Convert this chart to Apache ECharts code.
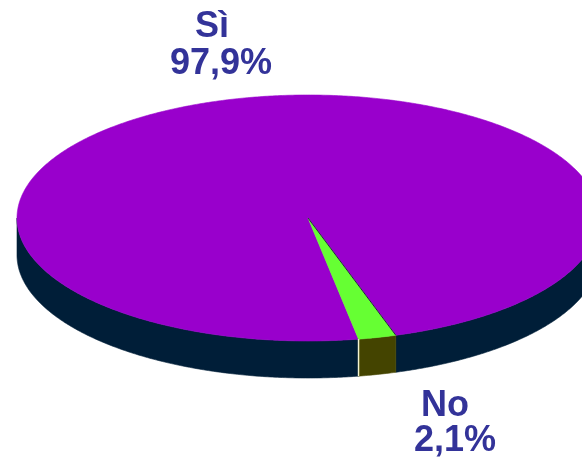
<!DOCTYPE html>
<html>
<head>
<meta charset="utf-8">
<script src="https://cdn.jsdelivr.net/npm/echarts@6/dist/echarts.min.js"></script>
<style>
  html, body { margin: 0; padding: 0; background: #ffffff; }
  #chart { width: 582px; height: 460px; }
</style>
</head>
<body>
<div id="chart"></div>
<script>
// Answers and their shares (percent)
const categories = ['Sì', 'No'];
const shares = [97.9, 2.1];

// Slice colours: top face and side wall
const topColors = ['#9900CC', '#66FF33'];
const sideColors = ['#001E38', '#444400'];

// Disc geometry (pixels / degrees, screen angles growing clockwise)
const disc = { cx: 308, cy: 218, rx: 291, ry: 123, depth: 37, startDeg: 80 };

// Label placement: left x and cap-centre y for the name and the value lines
const labelLayout = [
  { nameX: 195, nameY: 27, valX: 170, valY: 64 },
  { nameX: 421, nameY: 406, valX: 414, valY: 441 }
];

const total = shares.reduce((a, b) => a + b, 0);
const startAngles = [];
(function () {
  let acc = disc.startDeg;
  shares.forEach(v => { startAngles.push(acc); acc += v / total * 360; });
})();

function rimPoint(deg, dy) {
  const t = deg * Math.PI / 180;
  return [disc.cx + disc.rx * Math.cos(t), disc.cy + disc.ry * Math.sin(t) + (dy || 0)];
}

function arcPoints(a, b, dy) {
  const pts = [];
  const n = Math.max(2, Math.ceil(Math.abs(b - a) / 0.5));
  for (let i = 0; i <= n; i++) pts.push(rimPoint(a + (b - a) * i / n, dy));
  return pts;
}

// Parts of [a, b] that face the viewer (sin > 0 on screen)
function frontRanges(a, b) {
  const out = [];
  for (let k = -1; k <= 2; k++) {
    const lo = Math.max(a, k * 360), hi = Math.min(b, k * 360 + 180);
    if (hi > lo) out.push([lo, hi]);
  }
  return out;
}

function fmt(v) { return v.toFixed(1).replace('.', ',') + '%'; }

const chart = echarts.init(document.getElementById('chart'), null, { renderer: 'canvas' });

chart.setOption({
  backgroundColor: '#ffffff',
  animation: false,
  series: [{
    type: 'custom',
    coordinateSystem: 'none',
    data: shares.map((v, i) => ({ name: categories[i], value: v })),
    renderItem: function (params, api) {
      const i = params.dataIndex;
      const v = api.value(0);
      const a = startAngles[i];
      const b = a + v / total * 360;
      const children = [];

      // side wall
      frontRanges(a, b).forEach(([lo, hi]) => {
        const top = arcPoints(lo, hi, 0);
        const bottom = arcPoints(hi, lo, disc.depth);
        children.push({
          type: 'polygon', z2: 1,
          shape: { points: top.concat(bottom) },
          style: { fill: sideColors[i], stroke: sideColors[i], lineWidth: 0.6 }
        });
      });

      // top face
      children.push({
        type: 'polygon', z2: 5,
        shape: { points: [[disc.cx, disc.cy]].concat(arcPoints(a, b, 0)) },
        style: { fill: topColors[i], stroke: topColors[i], lineWidth: 0.6 }
      });

      // small slice edge highlights
      if (i === 1) {
        const pTop = rimPoint(b, 0), pBot = rimPoint(b, disc.depth);
        children.push({
          type: 'line', z2: 6,
          shape: { x1: pTop[0], y1: pTop[1], x2: pBot[0], y2: pBot[1] },
          style: { stroke: '#F4F4D0', lineWidth: 1.5 }
        });
        const pr = rimPoint(a, 0);
        children.push({
          type: 'line', z2: 6,
          shape: { x1: disc.cx, y1: disc.cy, x2: pr[0], y2: pr[1] },
          style: { stroke: '#2a1a50', lineWidth: 1 }
        });
      }

      // label
      const L = labelLayout[i];
      const font = 'bold 36px "Liberation Sans", Arial, sans-serif';
      children.push({
        type: 'text', z2: 10,
        style: { text: categories[i], x: L.nameX, y: L.nameY, font: font, fill: '#333399',
                 textAlign: 'left', textVerticalAlign: 'middle' }
      });
      children.push({
        type: 'text', z2: 10,
        style: { text: fmt(v), x: L.valX, y: L.valY, font: font, fill: '#333399',
                 textAlign: 'left', textVerticalAlign: 'middle' }
      });

      return { type: 'group', children: children };
    }
  }]
});
</script>
</body>
</html>
